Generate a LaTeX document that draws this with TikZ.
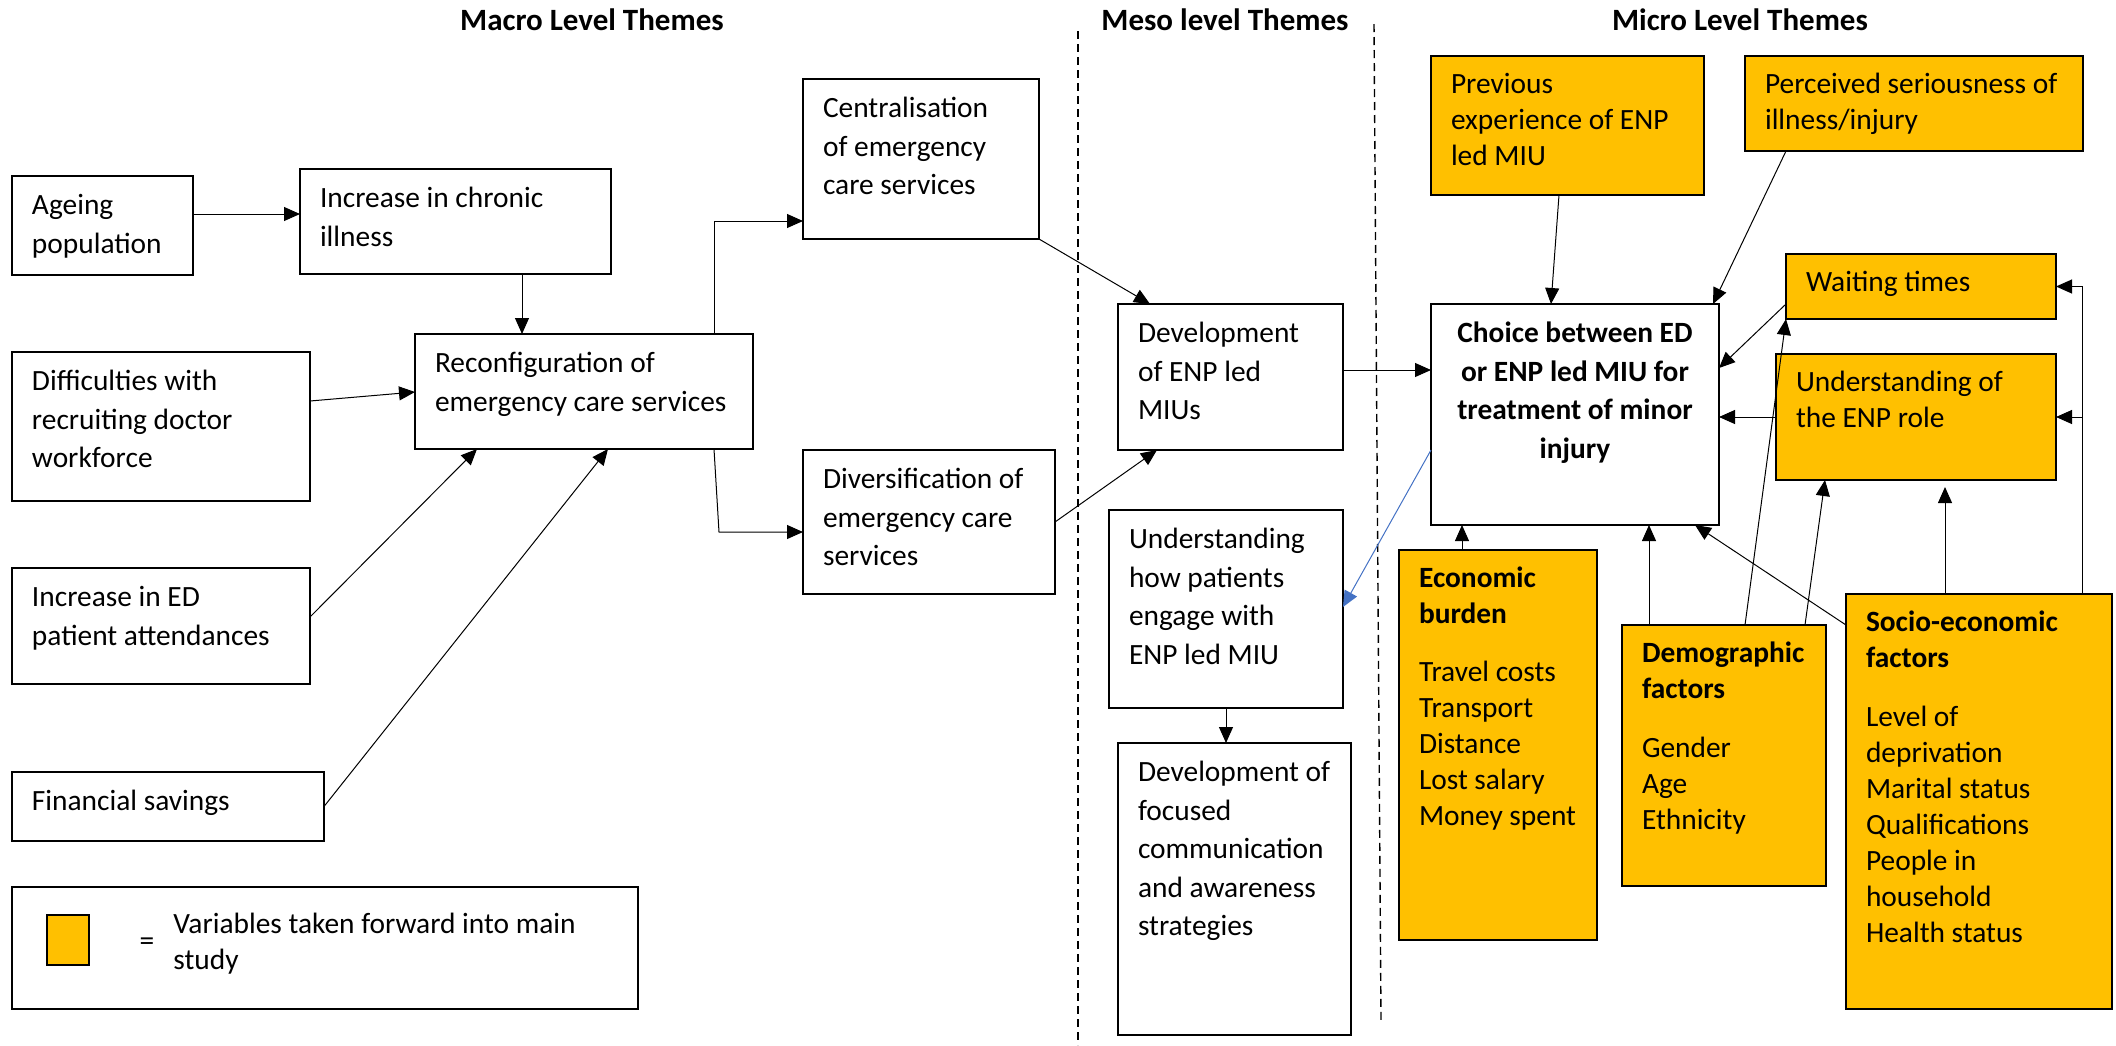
\documentclass[tikz,border=0pt]{standalone}
\usepackage{fontspec}
\setmainfont{Carlito}
\usepackage{tikz}
\usetikzlibrary{arrows.meta}

\definecolor{miuyellow}{HTML}{FFC000}
\definecolor{linkblue}{HTML}{4472C4}

\newcommand{\cell}[4][l]{\parbox[t][\dimexpr#3pt/2-12pt\relax][t]{\dimexpr#2pt/2-20pt\relax}{\if c#1\centering\fi\begin{tabular}[t]{@{}#1@{}}#4\end{tabular}}}

\begin{document}
\begin{tikzpicture}[x=0.5pt,y=-0.5pt,
    font=\fontsize{14.7}{19.2}\selectfont,
    >={Triangle[length=8pt,width=7pt]},
    box/.style={draw,line width=0.8pt,anchor=north west,inner xsep=10pt,inner ysep=6pt,outer sep=0pt},
    var/.style={box,fill=miuyellow,font=\fontsize{14.7}{18}\selectfont},
    link/.style={->,line width=0.5pt},
    theme/.style={anchor=base,font=\bfseries\fontsize{15.5}{18}\selectfont},
    divider/.style={line width=0.7pt,dash pattern=on 4pt off 2.5pt}]
    \useasboundingbox (0,0) rectangle (2116,1045);

    \node[theme] (macro) at (592,30) {Macro Level Themes};
    \node[theme] (meso) at (1225,30) {Meso level Themes};
    \node[theme] (micro) at (1740,30) {Micro Level Themes};
    \draw[divider] (1078,31) -- (1078,1045);
    \draw[divider] (1374,24) -- (1381,1020);

    \node[box] (ageing) at (12,176) {\cell{181}{99}{Ageing\\population}};
    \node[box] (chronic) at (300,169) {\cell{311}{105}{Increase in chronic\\illness}};
    \node[box] (central) at (803,79) {\cell{236}{160}{Centralisation\\of emergency\\care services}};
    \node[box] (difficult) at (12,352) {\cell{298}{149}{Difficulties with\\recruiting doctor\\workforce}};
    \node[box] (reconfig) at (415,334) {\cell{338}{115}{Reconfiguration of\\emergency care services}};
    \node[box] (diversif) at (803,450) {\cell{252}{144}{Diversification of\\emergency care\\services}};
    \node[box] (edattend) at (12,568) {\cell{298}{116}{Increase in ED\\patient attendances}};
    \node[box] (savings) at (12,772) {\cell{312}{69}{Financial savings}};

    \node[box] (devmiu) at (1118,304) {\cell{225}{146}{Development\\of ENP led\\MIUs}};
    \node[box] (engage) at (1109,510) {\cell{234}{198}{Understanding\\how patients\\engage with\\ENP led MIU}};
    \node[box] (focus) at (1118,743) {\cell{233}{292}{Development of\\focused\\communication\\and awareness\\strategies}};

    \node[box] (choice) at (1431,304) {\cell[c]{288}{221}{\textbf{Choice between ED}\\\textbf{or ENP led MIU for}\\\textbf{treatment of minor}\\\textbf{injury}}};
    \node[var] (previous) at (1431,56) {\cell{273}{139}{Previous\\experience of ENP\\led MIU}};
    \node[var] (perceived) at (1745,56) {\cell{338}{95}{Perceived seriousness of\\illness/injury}};
    \node[var] (waiting) at (1786,254) {\cell{270}{65}{Waiting times}};
    \node[var] (enprole) at (1776,354) {\cell{280}{126}{Understanding of\\the ENP role}};
    \node[var] (economic) at (1399,550) {\cell{198}{390}{\textbf{Economic}\\\textbf{burden}\\[11pt]Travel costs\\Transport\\Distance\\Lost salary\\Money spent}};
    \node[var] (demographic) at (1622,625) {\cell{204}{261}{\textbf{Demographic}\\\textbf{factors}\\[11.5pt]Gender\\Age\\Ethnicity}};
    \node[var] (socio) at (1846,594) {\cell{266}{415}{\textbf{Socio-economic}\\\textbf{factors}\\[11.5pt]Level of\\deprivation\\Marital status\\Qualifications\\People in\\household\\Health status}};

    \node[box] (legend) at (12,887) {\cell{626}{122}{}};
    \node[var,minimum width=21pt,minimum height=25pt,inner sep=0pt,line width=0.6pt] (key) at (47,915) {};
    \node (equals) at (147,944) {=};
    \node[anchor=base west,inner sep=0pt,font=\fontsize{14.7}{18}\selectfont] (keytext) at (173,933) {\begin{tabular}[t]{@{}l@{}}Variables taken forward into main\\study\end{tabular}};

    \draw[link] (ageing.east |- 0,214) -- (chronic.west |- 0,214);
    \draw[link] (522,0 |- chronic.south) -- (522,0 |- reconfig.north);
    \draw[link] (difficult.east |- 0,401) -- (reconfig.west |- 0,392);
    \draw[link] (edattend.east |- 0,617) -- (477,0 |- reconfig.south);
    \draw[link] (savings.east) -- (608,0 |- reconfig.south);
    \draw[link] (714,0 |- reconfig.north) |- (central.west |- 0,221);
    \draw[link] (714,0 |- reconfig.south) -- (719,532) -- (diversif.west |- 0,532);
    \draw[link] (central.south east) -- (1150,0 |- devmiu.north);
    \draw[link] (diversif.east) -- (1157,0 |- devmiu.south);
    \draw[link] (devmiu.east |- 0,370) -- (choice.west |- 0,370);
    \draw[link,draw=linkblue] (choice.west |- 0,450) -- (engage.east |- 0,607);
    \draw[link] (engage.south) -- (engage.south |- focus.north);

    \draw[link] (1559,0 |- previous.south) -- (1551,0 |- choice.north);
    \draw[link] (1786,0 |- perceived.south) -- (1713,0 |- choice.north);
    \draw[link] (waiting.west |- 0,304) -- (choice.east |- 0,368);
    \draw[link] (enprole.west) -- (enprole.west -| choice.east);
    \draw[link] (1462,0 |- economic.north) -- (1462,0 |- choice.south);
    \draw[link] (1649,0 |- demographic.north) -- (1649,0 |- choice.south);
    \draw[link] (socio.west |- 0,625) -- (1695,0 |- choice.south);
    \draw[link] (1745,0 |- demographic.north) -- (waiting.south west);
    \draw[link] (1805,0 |- demographic.north) -- (1825,0 |- enprole.south);
    \draw[link,shorten >=3.5pt] (1945,0 |- socio.north) -- (1945,0 |- enprole.south);
    \draw[link] (2082,0 |- socio.north) |- (waiting.east);
    \draw[link] (2082,0 |- enprole.east) -- (enprole.east);
\end{tikzpicture}
\end{document}
